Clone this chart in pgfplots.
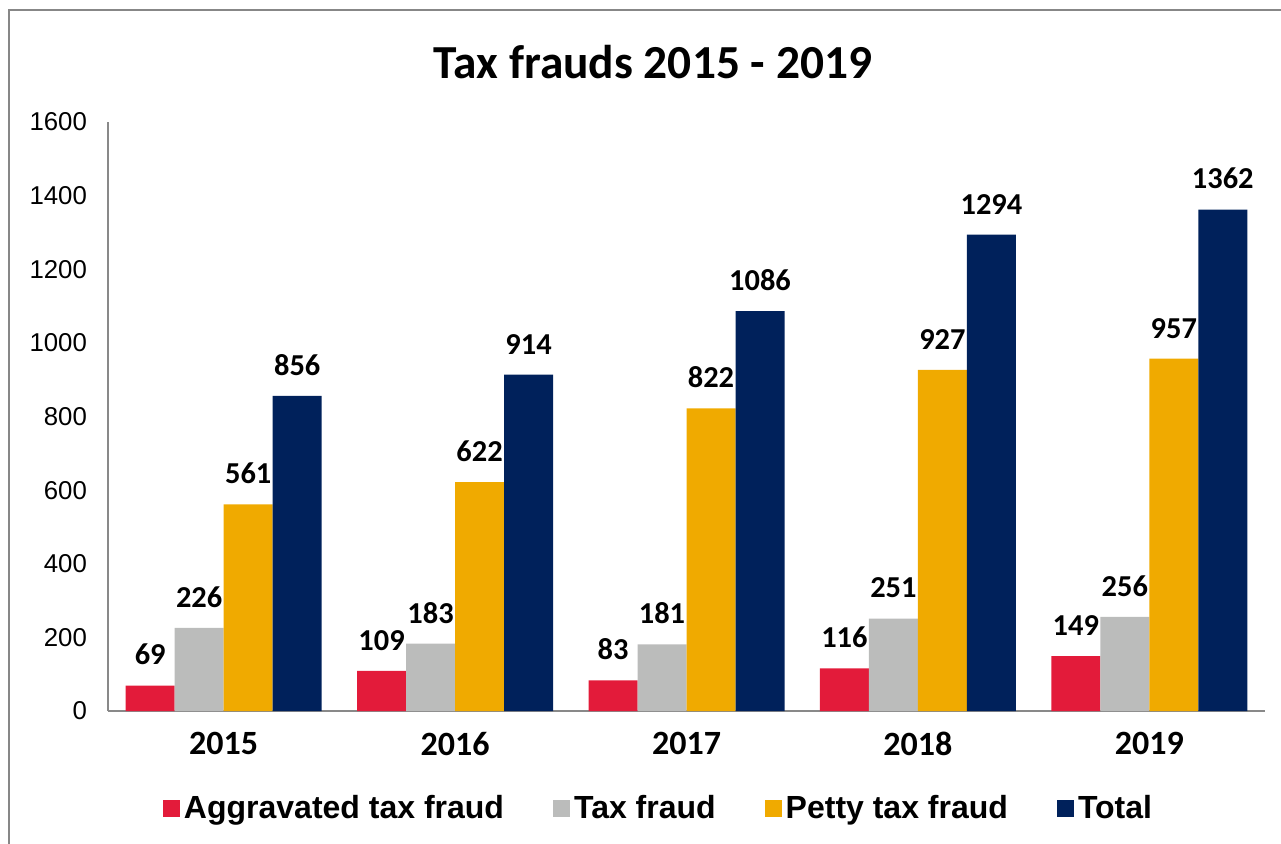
\documentclass[border=0pt]{standalone}
\usepackage{pgfplots}
\pgfplotsset{compat=1.18}
\usepackage{fontspec}
\setmainfont{Liberation Sans}
\newfontfamily\carlito{Carlito}
\definecolor{cRed}{RGB}{227,27,58}
\definecolor{cGray}{RGB}{187,188,187}
\definecolor{cOrange}{RGB}{240,170,0}
\definecolor{cNavy}{RGB}{0,33,91}
\definecolor{frameGray}{RGB}{135,135,135}
\definecolor{axGray}{RGB}{137,137,137}
\pgfplotsset{/pgf/number format/1000 sep={}}
\begin{document}
\begin{tikzpicture}
\path[use as bounding box] (0,0) rectangle (640.5pt,421.5pt);
\draw[frameGray, line width=1.3pt] (4.5pt,-5pt) -- (4.5pt,416.5pt) -- (650pt,416.5pt);
\node[font=\carlito\bfseries\fontsize{23.7}{28}\selectfont] at (326.5pt,390.5pt) {Tax frauds 2015 - 2019};
\begin{axis}[
  at={(54pt,66pt)}, anchor=south west,
  scale only axis, width=578.5pt, height=294.5pt,
  xmin=-0.5, xmax=4.5, ymin=0, ymax=1600,
  axis x line=bottom, axis y line=left,
  axis line style={-, axGray, line width=1pt},
  major tick length=0pt,
  xtick={0,1,2,3,4}, xticklabels={2015,2016,2017,2018,2019},
  ytick={0,200,...,1600},
  /pgf/number format/assume math mode=true,
  yticklabel style={font=\fontsize{12.9}{15}\selectfont, xshift=-7pt},
  xticklabel style={font=\carlito\bfseries\fontsize{17}{20}\selectfont, yshift=-7pt},
  ybar=0pt, bar width=24.5pt,
  nodes near coords,
  every node near coord/.append style={font=\carlito\bfseries\fontsize{15.2}{18}\selectfont, text=black, inner sep=0pt, yshift=10pt},
  legend columns=4,
  legend style={at={(0.4767,-0.1647)}, anchor=center, draw=none,
    font=\bfseries\fontsize{16}{19}\selectfont,
    /tikz/every even column/.append style={column sep=22.5pt}},
  legend image code/.code={\fill[#1] (-1.2pt,-4.25pt) rectangle (7.3pt,4.25pt);},
]
\addplot[fill=cRed, draw=none] coordinates {(0,69) (1,109) (2,83) (3,116) (4,149)};
\addplot[fill=cGray, draw=none] coordinates {(0,226) (1,183) (2,181) (3,251) (4,256)};
\addplot[fill=cOrange, draw=none] coordinates {(0,561) (1,622) (2,822) (3,927) (4,957)};
\addplot[fill=cNavy, draw=none] coordinates {(0,856) (1,914) (2,1086) (3,1294) (4,1362)};
\legend{Aggravated tax fraud, Tax fraud, Petty tax fraud, Total}
\end{axis}
\end{tikzpicture}
\end{document}
